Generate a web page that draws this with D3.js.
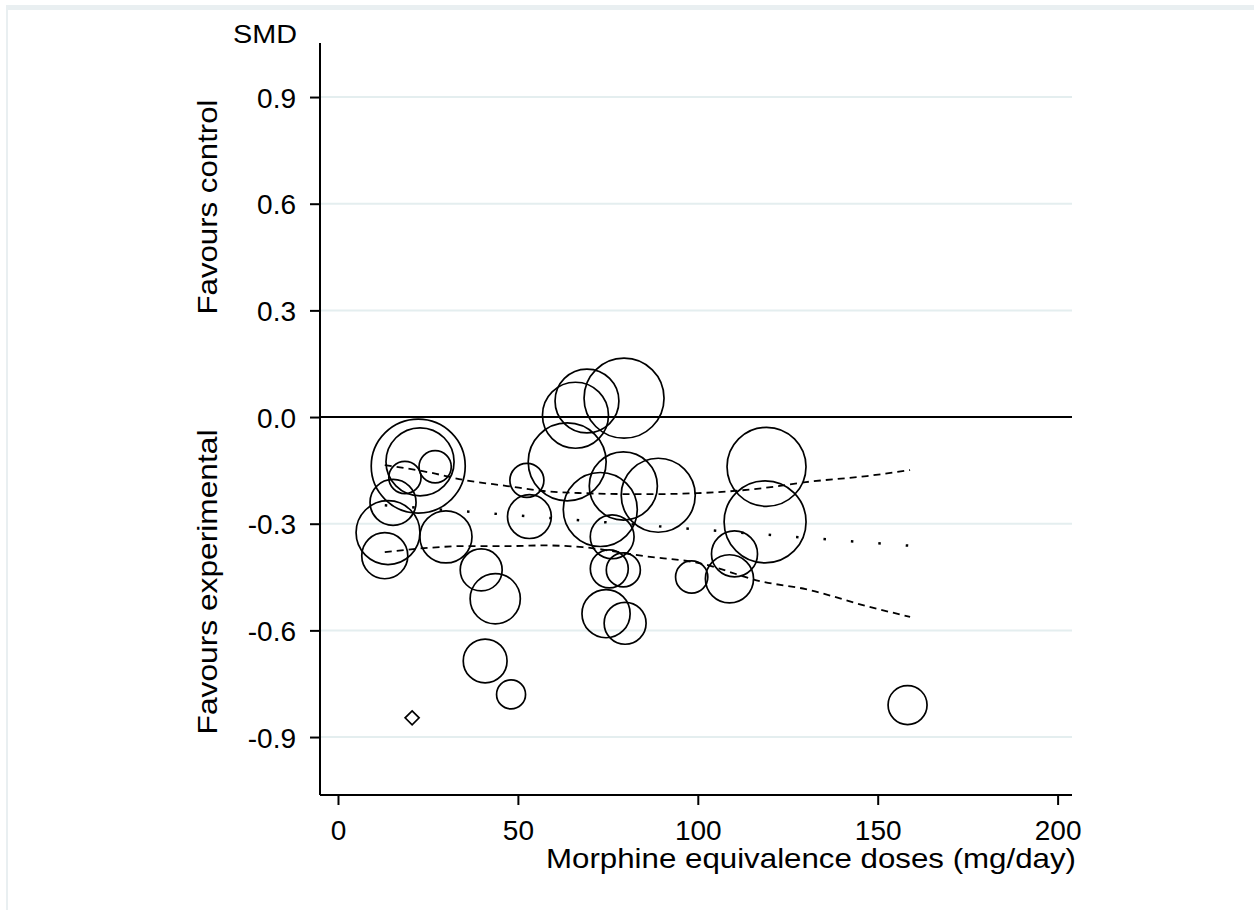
<!DOCTYPE html>
<html>
<head>
<meta charset="utf-8">
<script src="https://cdn.jsdelivr.net/npm/d3@7/dist/d3.min.js"></script>
<style>
  html, body { margin: 0; padding: 0; background: #ffffff; }
  svg { display: block; }
  text { font-family: "Liberation Sans", Arial, Helvetica, sans-serif; fill: #000; }
</style>
</head>
<body>
<svg id="chart" width="1254" height="910"></svg>
<script>
// Study-level points: dose (mg/day), standardised mean difference, relative weight
const doses = [22.3, 22.8, 27.0, 18.6, 15.3, 13.9, 13.0, 30.0, 39.8, 43.7, 52.5, 53.2, 40.9, 48.1,
               63.7, 66.0, 69.2, 79.5, 79.3, 89.0, 72.9, 76.2, 75.4, 79.3, 74.5, 79.8, 98.3,
               110.2, 108.8, 119.1, 118.7, 158.3];
const smd   = [-0.138, -0.126, -0.140, -0.170, -0.240, -0.325, -0.390, -0.337, -0.430, -0.511,
               -0.178, -0.280, -0.686, -0.780, -0.126, 0.005, 0.045, 0.053, -0.194, -0.220,
               -0.260, -0.337, -0.427, -0.430, -0.553, -0.580, -0.450, -0.385, -0.455, -0.140,
               -0.295, -0.810];
const weights = [22.1, 11.6, 2.6, 2.6, 5.3, 10.2, 5.3, 6.8, 4.4, 6.3, 2.9, 4.8, 4.8, 2.1,
                 15.2, 10.9, 10.2, 16.0, 11.6, 13.7, 13.7, 4.8, 3.6, 2.9, 5.8, 4.4, 2.6,
                 5.3, 5.8, 15.6, 16.8, 3.8];

// Study with a very small weight, drawn as a diamond
const diamondDose = [20.6];
const diamondSmd  = [-0.846];

// Meta-regression fit and its confidence band
const fitDose = [13, 159];
const fitSmd  = [-0.248, -0.362];
const bandDose  = [13, 25, 35, 47, 57, 68, 85, 100, 118, 130, 147, 159];
const bandUpper = [-0.135, -0.155, -0.177, -0.194, -0.208, -0.214, -0.217, -0.214, -0.200, -0.183, -0.166, -0.149];
const bandLower = [-0.380, -0.368, -0.363, -0.363, -0.361, -0.366, -0.391, -0.410, -0.463, -0.484, -0.532, -0.562];

// Axis ticks
const xTicks = [0, 50, 100, 150, 200];
const yTicks = [-0.9, -0.6, -0.3, 0.0, 0.3, 0.6, 0.9];

(function draw() {
  const svg = d3.select("#chart");

  // faint frame along the top and left edges
  svg.append("rect").attr("x", 6).attr("y", 5).attr("width", 1248).attr("height", 5).attr("fill", "#e9eff1");
  svg.append("rect").attr("x", 6).attr("y", 5).attr("width", 2).attr("height", 905).attr("fill", "#e9eff1");

  const pL = 320, pR = 1072, pT = 43, pB = 795;
  const x = d3.scaleLinear().domain([-5, 204]).range([pL, pR]);
  const y = d3.scaleLinear().domain([-1.063, 1.052]).range([pB, pT]);
  const r = d3.scaleSqrt().domain([0, d3.max(weights)]).range([0, 47]);

  // horizontal grid lines
  svg.append("g").selectAll("line").data(yTicks.filter(v => v !== 0)).join("line")
    .attr("x1", pL).attr("x2", pR)
    .attr("y1", d => y(d)).attr("y2", d => y(d))
    .attr("stroke", "#e4eeef").attr("stroke-width", 2);

  // confidence band (dashed) and fitted line (dotted)
  const bandLine = (vals) => d3.line().x((d, i) => x(bandDose[i])).y(d => y(d)).curve(d3.curveMonotoneX)(vals);
  [bandUpper, bandLower].forEach(vals => {
    svg.append("path").attr("d", bandLine(vals))
      .attr("fill", "none").attr("stroke", "#000").attr("stroke-width", 1.8)
      .attr("stroke-dasharray", "7,5");
  });
  svg.append("path")
    .attr("d", d3.line().x((d, i) => x(fitDose[i])).y(d => y(d))(fitSmd))
    .attr("fill", "none").attr("stroke", "#000").attr("stroke-width", 2.5)
    .attr("stroke-dasharray", "2.5,25");

  // reference line at zero
  svg.append("line").attr("x1", pL).attr("x2", pR).attr("y1", y(0)).attr("y2", y(0))
    .attr("stroke", "#000").attr("stroke-width", 2);

  // weighted study circles
  svg.append("g").selectAll("circle").data(doses).join("circle")
    .attr("cx", d => x(d))
    .attr("cy", (d, i) => y(smd[i]))
    .attr("r", (d, i) => r(weights[i]))
    .attr("fill", "none").attr("stroke", "#000").attr("stroke-width", 1.7);

  // diamond marker
  svg.append("g").selectAll("path").data(diamondDose).join("path")
    .attr("d", (d, i) => {
      const cx = x(d), cy = y(diamondSmd[i]), s = 7;
      return `M${cx},${cy - s}L${cx + s},${cy}L${cx},${cy + s}L${cx - s},${cy}Z`;
    })
    .attr("fill", "none").attr("stroke", "#000").attr("stroke-width", 1.7);

  // axes
  const yAxis = d3.axisLeft(y).tickValues(yTicks).tickSize(10).tickPadding(14)
    .tickFormat(d => d3.format(".1f")(d).replace("\u2212", "-"));
  const gy = svg.append("g").attr("transform", `translate(${pL},0)`).call(yAxis);
  gy.select(".domain").attr("d", `M0,${pT}V${pB}`).attr("stroke-width", 2);
  gy.selectAll(".tick line").attr("stroke-width", 2);
  gy.selectAll(".tick text").attr("font-size", 28).attr("font-family", null).attr("dy", "0.36em");

  const xAxis = d3.axisBottom(x).tickValues(xTicks).tickSize(10).tickPadding(15);
  const gx = svg.append("g").attr("transform", `translate(0,${pB})`).call(xAxis);
  gx.select(".domain").attr("d", `M${pL},0H${pR}`).attr("stroke-width", 2);
  gx.selectAll(".tick line").attr("stroke-width", 2);
  gx.selectAll(".tick text").attr("font-size", 28).attr("font-family", null);

  // titles
  svg.append("text").attr("x", 297).attr("y", 43).attr("text-anchor", "end")
    .attr("font-size", 26).attr("textLength", 64).attr("lengthAdjust", "spacingAndGlyphs").text("SMD");
  svg.append("text").attr("x", 1076).attr("y", 868).attr("text-anchor", "end")
    .attr("font-size", 28).attr("textLength", 530).attr("lengthAdjust", "spacingAndGlyphs")
    .text("Morphine equivalence doses (mg/day)");
  svg.append("text").attr("transform", "translate(217,207) rotate(-90)").attr("text-anchor", "middle")
    .attr("font-size", 28).attr("textLength", 215).attr("lengthAdjust", "spacingAndGlyphs")
    .text("Favours control");
  svg.append("text").attr("transform", "translate(217,582) rotate(-90)").attr("text-anchor", "middle")
    .attr("font-size", 28).attr("textLength", 305).attr("lengthAdjust", "spacingAndGlyphs")
    .text("Favours experimental");
})();
</script>
</body>
</html>
